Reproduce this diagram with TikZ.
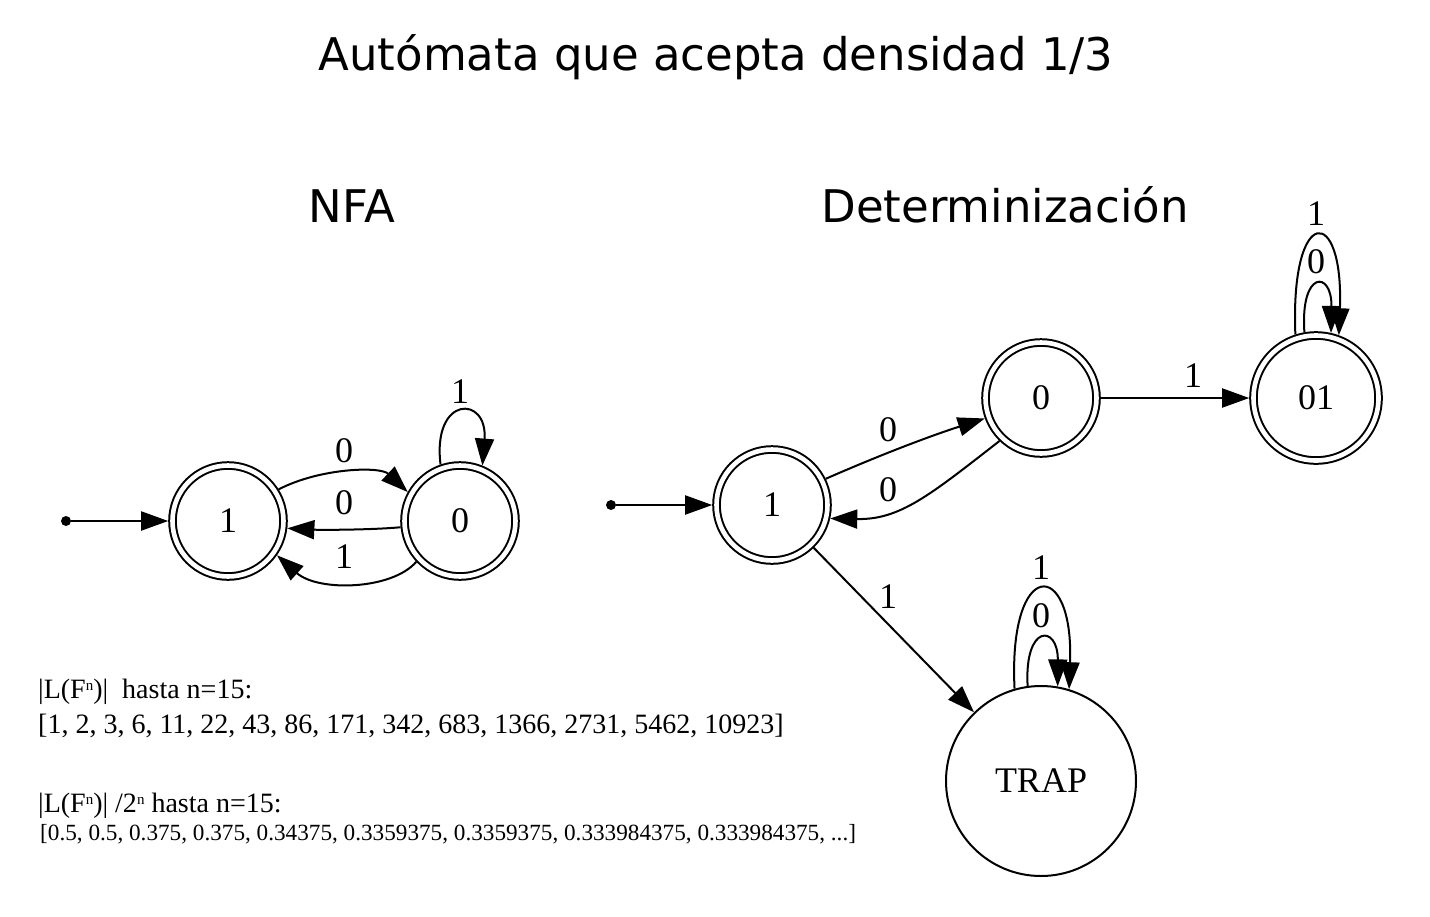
\documentclass[tikz,border=0pt]{standalone}
\usepackage{fontspec}
\setmainfont{Liberation Serif}
\newfontfamily\dejavu{DejaVu Sans}
\usetikzlibrary{arrows.meta}
\newcommand{\supn}{\raisebox{0.6ex}{\fontsize{15}{15}\selectfont n}}
\begin{document}
\begin{tikzpicture}[x=1pt,y=-1pt,
  lw/.style={line width=2pt},
  every node/.style={font=\fontsize{36}{42}\selectfont},
  accept/.style={circle,draw,lw,double,double distance=4.6pt,outer sep=4.3pt,inner sep=0pt,minimum size=#1},
  plainstate/.style={circle,draw,lw,inner sep=0pt,minimum size=#1},
  startdot/.style={circle,fill,inner sep=0pt,minimum size=10pt},
  edge/.style={lw,-{Triangle[length=27pt,width=19pt]}},
  lbl/.style={inner sep=0pt,anchor=center},
  ttl/.style={font=\dejavu\fontsize{45}{52}\selectfont,anchor=base,inner sep=0pt},
  info/.style={font=\fontsize{28}{32}\selectfont,anchor=base west,inner sep=0pt},
  infosmall/.style={font=\fontsize{23.2}{28}\selectfont,anchor=base west,inner sep=0pt}]
\useasboundingbox (0,0) rectangle (1430,916);
\fill[white] (0,0) rectangle (1430,916);

% titles
\node[ttl] (title) at (716,70) {Autómata que acepta densidad 1/3};
\node[ttl] (tnfa) at (352,222) {NFA};
\node[ttl] (tdfa) at (1005,222) {Determinización};

% NFA
\node[startdot] (s1) at (66,521) {};
\node[accept=111pt] (a1) at (228,521) {1};
\node[accept=111pt] (a0) at (460,521) {0};
\draw[edge] (s1) -- (a1);
\draw[edge] (a1.32) .. controls (320,468) and (380,466) .. (a0.151);
\draw[edge] (a0.186) .. controls (370,530) and (320,530) .. (a1.353);
\draw[edge] (a0.223) .. controls (392,590) and (318,592) .. (a1.325);
\draw[edge] (a0.109) .. controls (432,395) and (488,395) .. (a0.68);
\node[lbl] (la) at (344,451) {0};
\node[lbl] (lb) at (344,503) {0};
\node[lbl] (lc) at (344,557) {1};
\node[lbl] (ld) at (460,392) {1};

% DFA
\node[startdot] (s2) at (611,505) {};
\node[accept=111pt] (d1) at (772,505) {1};
\node[accept=111pt] (d0) at (1041,398) {0};
\node[accept=125pt] (d01) at (1316,398) {01};
\node[plainstate=190pt] (trap) at (1041,781) {TRAP};
\draw[edge] (s2) -- (d1);
\draw[edge] (d1.26) .. controls (880,455) and (930,436) .. (d0.200);
\draw[edge] (d0.226) .. controls (930,495) and (900,520) .. (d1.347);
\draw[edge] (d0) -- (d01);
\draw[edge] (d1) -- (trap);
\draw[edge] (d01.100) .. controls (1300,270) and (1332,270) .. (d01.77);
\draw[edge] (d01.108) .. controls (1290,204) and (1344,204) .. (d01.70);
\draw[edge] (trap.98) .. controls (1024,624) and (1058,624) .. (trap.80);
\draw[edge] (trap.106) .. controls (1008,557) and (1074,557) .. (trap.73);
\node[lbl] (le) at (888,430) {0};
\node[lbl] (lf) at (888,490) {0};
\node[lbl] (lg) at (1193,376) {1};
\node[lbl] (lh) at (888,597) {1};
\node[lbl] (li) at (1316,262) {0};
\node[lbl] (lj) at (1316,214) {1};
\node[lbl] (lk) at (1041,616) {0};
\node[lbl] (ll) at (1041,568) {1};

% info text
\node[info] (i1) at (38,698) {|L(F\supn)|\ \ hasta n=15:};
\node[info] (i2) at (38,733) {[1, 2, 3, 6, 11, 22, 43, 86, 171, 342, 683, 1366, 2731, 5462, 10923]};
\node[info] (i3) at (38,812) {|L(F\supn)| /2\supn{} hasta n=15:};
\node[infosmall] (i4) at (40,840) {[0.5, 0.5, 0.375, 0.375, 0.34375, 0.3359375, 0.3359375, 0.333984375, 0.333984375, ...]};
\end{tikzpicture}
\end{document}
